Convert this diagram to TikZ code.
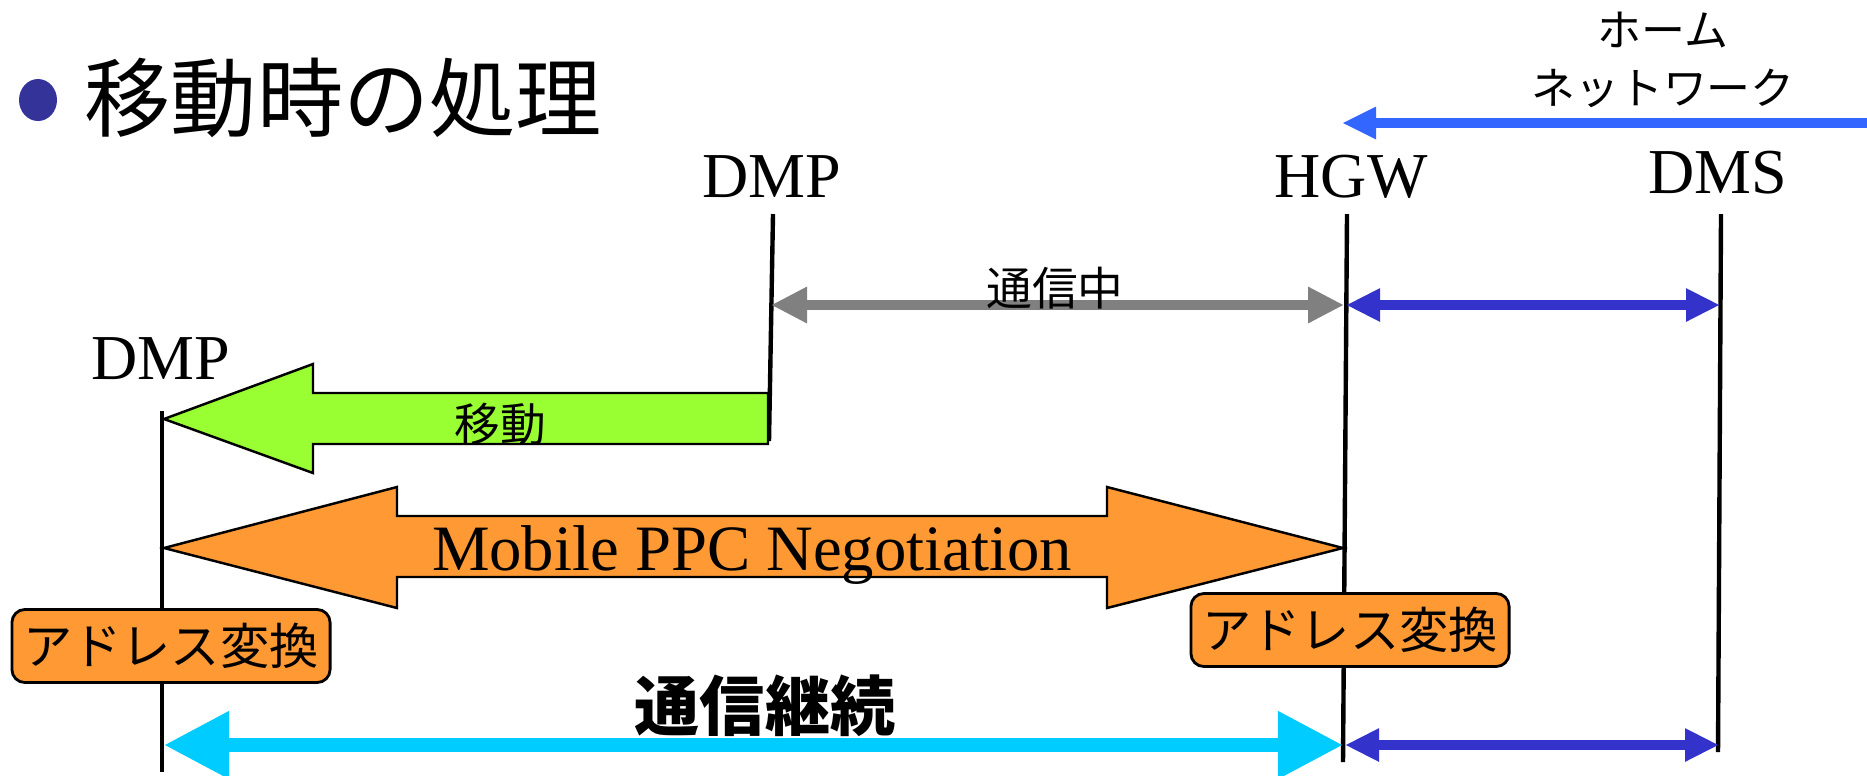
\documentclass[tikz,border=0pt]{standalone}
\usepackage{fontspec}
\setmainfont{Liberation Serif}
\newfontfamily\jp{Noto Sans CJK JP}
\usetikzlibrary{arrows.meta}
\definecolor{bulletblue}{HTML}{333399}
\definecolor{netblue}{HTML}{3366FF}
\definecolor{darkblue}{HTML}{3333CC}
\definecolor{greenarrow}{HTML}{99FF33}
\definecolor{orangefill}{HTML}{FF9933}
\definecolor{cyanarrow}{HTML}{00CCFF}
\definecolor{grayarrow}{HTML}{808080}
\begin{document}
\begin{tikzpicture}[x=0.01cm,y=-0.01cm,
  lifeline/.style={line width=1.25pt},
  entity/.style={font=\fontsize{18.2}{20}\selectfont, inner sep=0pt},
  jplabel/.style={font=\jp\fontsize{13}{15}\selectfont, inner sep=0pt},
  blockarrow/.style={draw=black, line width=0.7pt, line join=miter},
  addrbox/.style={draw=black, line width=0.8pt, fill=orangefill, rounded corners=0.13cm,
    minimum width=3.18cm, minimum height=0.73cm, inner sep=0pt,
    font=\jp\fontsize{14}{16}\selectfont},
  grayline/.style={draw=grayarrow, line width=2.6pt,
    {Triangle[length=3.6mm,width=3.4mm]}-{Triangle[length=3.6mm,width=3.4mm]}},
  blueline/.style={draw=darkblue, line width=2.6pt,
    {Triangle[length=3.4mm,width=3.1mm]}-{Triangle[length=3.4mm,width=3.1mm]}},
  cyanline/.style={draw=cyanarrow, line width=4pt,
    {Triangle[length=6.5mm,width=6.4mm]}-{Triangle[length=6.5mm,width=6.4mm]}},
  netline/.style={draw=netblue, line width=2.9pt, -{Triangle[length=3.4mm,width=3mm]}}
]
\useasboundingbox (0,0) rectangle (1867,775);

% title
\fill[bulletblue] (38,100) ellipse [x radius=19, y radius=21];
\node[anchor=west, inner sep=0pt, font=\jp\fontsize{24.5}{28}\selectfont] (title) at (84,98) {移動時の処理};

% home network
\node[inner sep=0pt, align=center, font=\jp\fontsize{12.5}{16.5}\selectfont] (homenet) at (1663,60) {ホーム\\ネットワーク};
\coordinate (netR) at (1867,123);
\coordinate (netL) at (1342,123);
\draw[netline] (netR) -- (netL);

% entity labels
\node[entity] (dmp1) at (772,177) {DMP};
\node[entity] (hgw) at (1351,177) {HGW};
\node[entity] (dms) at (1718,173) {DMS};
\node[entity] (dmp2) at (161,359) {DMP};

% lifelines
\coordinate (dmp1T) at (773,214);
\coordinate (dmp1B) at (769,441);
\coordinate (hgwT) at (1347,214);
\coordinate (hgwB) at (1343,762);
\coordinate (dmsT) at (1721,214);
\coordinate (dmsB) at (1718,752);
\coordinate (dmp2T) at (162,411);
\coordinate (dmp2B) at (162,772);
\draw[lifeline] (dmp1T) -- (dmp1B);
\draw[lifeline] (hgwT) -- (hgwB);
\draw[lifeline] (dmsT) -- (dmsB);
\draw[lifeline] (dmp2T) -- (dmp2B);

% communicating
\coordinate (c1L) at (771,305);
\coordinate (c1R) at (1344,305);
\coordinate (c2L) at (1346,305);
\coordinate (c2R) at (1720,305);
\draw[grayline] (c1L) -- (c1R);
\draw[blueline] (c2L) -- (c2R);
\node[jplabel] (tsushin) at (1055,288) {通信中};

% move arrow
\filldraw[blockarrow, fill=greenarrow] (768,393) -- (313,393) -- (313,364) -- (164,419) -- (313,473) -- (313,444) -- (768,444) -- cycle;
\node[jplabel] (ido) at (500,424) {移動};

% negotiation arrow
\filldraw[blockarrow, fill=orangefill] (1107,516) -- (397,516) -- (397,487) -- (164,548) -- (397,608) -- (397,577) -- (1107,577) -- (1107,608) -- (1343,548) -- (1107,487) -- cycle;
\node[inner sep=0pt, anchor=base, font=\fontsize{18.4}{20}\selectfont] (nego) at (752,570) {Mobile PPC Negotiation};

% address translation boxes
\node[addrbox] (addrL) at (171,646) {アドレス変換};
\node[addrbox] (addrR) at (1350,630) {アドレス変換};

% continued communication
\node[inner sep=0pt, font=\jp\bfseries\fontsize{18.5}{20}\selectfont] (keizoku) at (765,706) {通信継続};
\coordinate (k1L) at (164,745);
\coordinate (k1R) at (1343,745);
\coordinate (k2L) at (1345,745);
\coordinate (k2R) at (1719,745);
\draw[cyanline] (k1L) -- (k1R);
\draw[blueline] (k2L) -- (k2R);
\end{tikzpicture}
\end{document}
